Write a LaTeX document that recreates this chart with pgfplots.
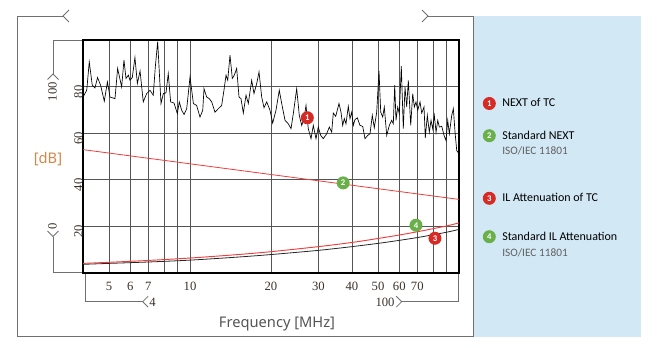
\documentclass[border=0pt]{standalone}
\usepackage{pgfplots}
\pgfplotsset{compat=1.18}
\usepackage{fontspec}
\setmainfont{Liberation Serif}
\newfontfamily\yhf{Noto Sans}
\newfontfamily\legf{Carlito}
\definecolor{gridc}{HTML}{555555}
\definecolor{brk}{HTML}{707070}
\definecolor{panel}{HTML}{D3E8F5}
\definecolor{mred}{HTML}{D62A24}
\definecolor{mgreen}{HTML}{6AB04A}
\definecolor{lred}{HTML}{F03C3C}
\definecolor{dbc}{HTML}{D58649}
\definecolor{freqc}{HTML}{555555}
\definecolor{subc}{HTML}{606060}
\definecolor{tickc}{HTML}{3A3028}
\pgfplotstableread{
f db
4.0 75.5
4.13 78.4
4.22 90.6
4.33 80.6
4.43 79.4
4.53 83.9
4.65 80.6
4.80 73.7
4.93 82.0
5.04 75.5
5.26 74.8
5.38 87.8
5.57 79.8
5.68 91.4
5.78 83.5
5.90 84.9
5.98 82.7
6.10 83.9
6.24 92.5
6.37 81.3
6.52 86.7
6.70 73.4
6.90 77.0
7.10 78.4
7.30 76.3
7.43 88.5
7.58 99.3
7.80 72.7
7.96 77.0
8.14 77.3
8.30 85.6
8.47 73.4
8.72 72.9
8.97 68.4
9.12 73.4
9.31 69.8
9.50 68.0
9.72 70.5
10.0 84.2
10.29 72.7
10.58 71.9
10.89 66.9
11.15 69.8
11.27 79.1
11.53 75.5
11.79 74.8
12.04 73.4
12.38 69.0
12.74 70.5
13.11 71.9
13.37 78.4
13.61 84.9
13.81 82.7
14.08 93.5
14.36 83.5
14.61 84.9
14.91 87.8
15.21 75.5
15.47 74.8
15.78 68.6
16.15 76.3
16.47 72.7
16.95 82.7
17.29 77.0
17.70 81.3
18.05 86.3
18.47 75.5
18.84 70.9
19.28 73.4
19.83 69.8
20.29 64.3
20.87 69.8
21.47 78.4
21.92 72.7
22.55 65.5
23.19 64.0
23.74 61.9
24.21 68.4
24.92 79.1
25.48 67.6
26.01 63.3
26.53 66.2
26.99 71.9
27.52 61.9
28.17 57.6
28.73 63.3
29.40 57.6
29.98 62.6
30.61 59.0
31.30 57.6
32.22 59.7
32.95 62.6
33.63 60.4
34.09 68.6
34.80 67.2
35.80 72.7
36.42 69.0
36.95 63.3
37.46 66.2
38.01 64.0
38.77 71.5
39.33 66.2
39.91 69.0
40.46 63.3
41.05 65.8
41.87 66.6
42.85 63.3
43.85 62.9
44.72 57.6
45.77 59.0
46.68 59.7
47.61 67.6
48.43 62.3
49.43 69.0
50.42 86.7
51.16 69.0
52.04 66.9
52.76 71.2
53.86 59.0
55.07 63.3
56.21 65.5
56.99 64.0
57.68 80.6
58.32 65.5
59.18 71.2
60.00 68.4
61.03 88.8
62.08 61.9
62.99 79.8
63.92 71.2
64.80 82.7
66.15 63.3
67.29 77.0
68.22 71.2
69.22 73.4
70.24 69.8
71.63 73.4
72.68 68.6
74.13 71.2
74.96 58.0
76.26 67.6
77.57 60.4
78.71 65.5
79.86 61.9
80.97 67.6
82.16 60.4
83.36 65.5
84.51 62.6
86.27 62.9
87.98 59.0
89.50 56.8
90.81 65.5
92.06 59.7
93.97 67.6
95.27 70.5
96.67 60.4
98.08 52.5
100 51.1
}\nexttc
\pgfplotstableread{
f db
4 52.9
10 46.8
20 42.2
50 36.1
100 31.5
}\stdnext
\pgfplotstableread{
f db
4 4.0
5 4.47
7 5.27
10 6.3
15 7.78
20 9.03
30 11.2
40 13.0
50 14.7
60 16.2
70 17.6
80 18.9
90 20.1
100 21.4
}\stdil
\pgfplotstableread{
f db
4 3.6
5 4.0
7 4.6
10 5.4
15 6.7
20 7.8
30 9.6
40 11.2
50 12.6
60 13.9
70 15.1
80 16.3
90 17.4
100 18.6
}\iltc
\begin{document}
\begin{tikzpicture}
\path[use as bounding box] (0,0) rectangle (495pt,260.25pt);
\begin{scope}[x=0.75pt,y=-0.75pt,shift={(0pt,260.25pt)}]
  \fill[panel] (473.5,16) rectangle (641,336.7);
  \draw[brk, line width=0.6pt] (63,16) -- (17,16) -- (17,336.7) -- (473.3,336.7) -- (473.3,16) -- (428,16);
  \draw[brk, line width=0.6pt] (69,10) -- (63,16) -- (69,22);
  \draw[brk, line width=0.6pt] (422,10) -- (428,16) -- (422,22);
  % y bracket
  \draw[brk, line width=0.6pt] (83,40) -- (53,40) -- (53,74);
  \draw[brk, line width=0.6pt] (47.5,79.5) -- (53,74) -- (58.5,79.5);
  \node[rotate=90, text=tickc, font=\fontsize{9.5}{10}\selectfont, inner sep=0pt] at (52.5,91.5) {100};
  \draw[brk, line width=0.6pt] (83,272.7) -- (53,272.7) -- (53,236.5);
  \draw[brk, line width=0.6pt] (47.5,231) -- (53,236.5) -- (58.5,231);
  \node[rotate=90, text=tickc, font=\fontsize{9.5}{10}\selectfont, inner sep=0pt] at (52.5,226) {0};
  % x bracket
  \draw[brk, line width=0.6pt] (85.3,272.7) -- (85.3,301.7) -- (142.7,301.7);
  \draw[brk, line width=0.6pt] (148.2,296.2) -- (142.7,301.7) -- (148.2,307.2);
  \node[text=tickc, font=\fontsize{9.5}{10}\selectfont, inner sep=0pt] at (152.5,302) {4};
  \draw[brk, line width=0.6pt] (458.3,272.7) -- (458.3,301.7) -- (401.7,301.7);
  \draw[brk, line width=0.6pt] (396.2,296.2) -- (401.7,301.7) -- (396.2,307.2);
  \node[text=tickc, font=\fontsize{9.5}{10}\selectfont, inner sep=0pt] at (385,302) {100};
  % labels
  \node[font=\yhf\fontsize{11}{12}\selectfont, text=dbc] at (48,159) {[dB]};
  \node[font=\yhf\fontsize{11}{12}\selectfont, text=freqc] at (277,324.5) {Frequency [MHz]};
  % legend
  \begin{scope}[every node/.style={font=\legf\fontsize{9}{10}\selectfont, anchor=west, inner sep=0pt}]
    \node[circle, fill=mred, minimum size=9.75pt, text=white, font=\legf\bfseries\fontsize{6.5}{7}\selectfont, anchor=center] at (489.3,103.5) {1};
    \node at (502,102.5) {NEXT of TC};
    \node[circle, fill=mgreen, minimum size=9.75pt, text=white, font=\legf\bfseries\fontsize{6.5}{7}\selectfont, anchor=center] at (489.3,135.7) {2};
    \node at (502,135) {Standard NEXT};
    \node[text=subc, font=\legf\fontsize{8.5}{9}\selectfont] at (502,151) {ISO/IEC 11801};
    \node[circle, fill=mred, minimum size=9.75pt, text=white, font=\legf\bfseries\fontsize{6.5}{7}\selectfont, anchor=center] at (489.3,198.3) {3};
    \node at (502,197.5) {IL Attenuation of TC};
    \node[circle, fill=mgreen, minimum size=9.75pt, text=white, font=\legf\bfseries\fontsize{6.5}{7}\selectfont, anchor=center] at (489.3,236.7) {4};
    \node at (502,236.5) {Standard IL Attenuation};
    \node[text=subc, font=\legf\fontsize{8.5}{9}\selectfont] at (502,252.5) {ISO/IEC 11801};
  \end{scope}
\end{scope}
\begin{axis}[
  at={(62.25pt,55.73pt)}, anchor=south west,
  scale only axis, width=282pt, height=174.5pt,
  xmode=log, xmin=4, xmax=100, ymin=0, ymax=100,
  log basis x=10,
  xtick={5,6,7,10,20,30,40,50,60,70},
  xticklabels={5,6,7,10,20,30,40,50,60,70},
  minor xtick={8,9,80,90},
  ytick={20,40,60,80},
  yticklabels={20,40,60,80},
  grid=both,
  major grid style={gridc, line width=0.6pt},
  minor grid style={gridc, line width=0.6pt},
  major tick length=0pt, minor tick length=0pt,
  axis line style={black, line width=1.3pt},
  ticklabel style={font=\fontsize{9.5}{10}\selectfont, text=tickc},
  xticklabel style={inner sep=0pt, yshift=-7pt},
  yticklabel style={rotate=90, anchor=south, inner sep=0pt, xshift=-4pt},
  clip=true,
]
\addplot[black, line width=0.5pt] table[x=f,y=db] {\nexttc};
\addplot[lred, line width=0.6pt] table[x=f,y=db] {\stdnext};
\addplot[black!85, line width=0.6pt, smooth] table[x=f,y=db] {\iltc};
\addplot[lred, line width=0.7pt, smooth] table[x=f,y=db] {\stdil};
\node[circle, fill=mred, minimum size=9.75pt, inner sep=0pt, text=white, font=\legf\bfseries\fontsize{6.5}{7}\selectfont] at (axis cs:27.3,66.6) {1};
\node[circle, fill=mgreen, minimum size=9.75pt, inner sep=0pt, text=white, font=\legf\bfseries\fontsize{6.5}{7}\selectfont] at (axis cs:37.1,38.6) {2};
\node[circle, fill=mred, minimum size=9.75pt, inner sep=0pt, text=white, font=\legf\bfseries\fontsize{6.5}{7}\selectfont] at (axis cs:81.4,14.8) {3};
\node[circle, fill=mgreen, minimum size=9.75pt, inner sep=0pt, text=white, font=\legf\bfseries\fontsize{6.5}{7}\selectfont] at (axis cs:69.2,20.4) {4};
\end{axis}
\end{tikzpicture}
\end{document}
